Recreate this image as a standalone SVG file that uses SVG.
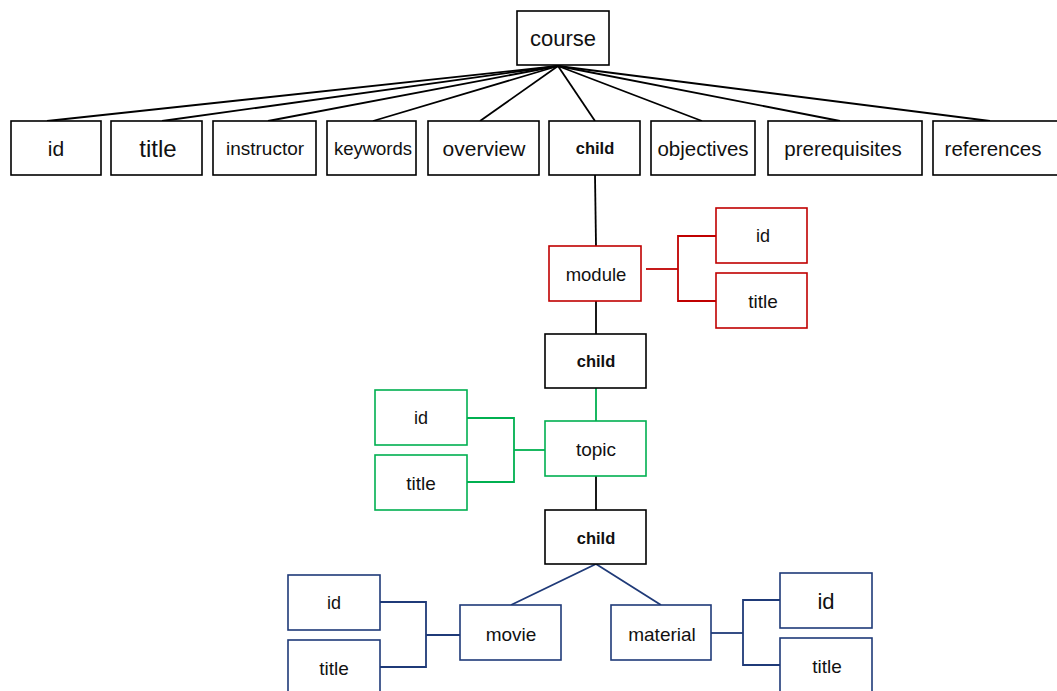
<svg xmlns="http://www.w3.org/2000/svg" width="1057" height="691" viewBox="0 0 1057 691">
<style>
rect{fill:#fff;stroke-width:1.6}
.k rect{stroke:#000}
.r rect{stroke:#C00000}
.g rect{stroke:#00B050}
.b rect{stroke:#1F3A78}
text{font-family:"Liberation Sans",Arial,sans-serif;fill:#111;text-anchor:middle;dominant-baseline:central}
.bold{font-weight:bold}
#connectors line,#connectors polyline{fill:none;stroke-width:1.8}
.lk{stroke:#000}.lr{stroke:#C00000}.lg{stroke:#00B050}.lb{stroke:#1F3A78}
</style>
<rect x="0" y="0" width="1057" height="691" style="fill:#fff;stroke:none"/>
<g id="connectors">
<g class="lk">
<line x1="558" y1="66" x2="47" y2="121"/>
<line x1="558" y1="66" x2="162" y2="121"/>
<line x1="558" y1="66" x2="268" y2="121"/>
<line x1="558" y1="66" x2="373" y2="121"/>
<line x1="558" y1="66" x2="480" y2="121"/>
<line x1="558" y1="66" x2="595" y2="121"/>
<line x1="558" y1="66" x2="702" y2="121"/>
<line x1="558" y1="66" x2="840" y2="121"/>
<line x1="558" y1="66" x2="990" y2="121"/>
<line x1="595" y1="175" x2="596" y2="246"/>
<line x1="596" y1="301" x2="596" y2="334"/>
<line x1="596" y1="476" x2="596" y2="510"/>
</g>
<g class="lr">
<line x1="646" y1="269" x2="678" y2="269"/>
<polyline points="716,236 678,236 678,301 716,301"/>
</g>
<g class="lg">
<line x1="596" y1="388" x2="596" y2="421"/>
<polyline points="467,418 514,418 514,482 467,482"/>
<line x1="514" y1="450" x2="545" y2="450"/>
</g>
<g class="lb">
<polyline points="511,605 596,564 661,605"/>
<polyline points="380,602 426,602 426,667 380,667"/>
<line x1="426" y1="635" x2="460" y2="635"/>
<line x1="711" y1="633" x2="743" y2="633"/>
<polyline points="780,600 743,600 743,665 780,665"/>
</g>
</g>
<g id="course" class="k"><rect x="517" y="11" width="92" height="54"/><text x="563" y="38" font-size="22">course</text></g>
<g id="course-id" class="k"><rect x="11" y="121" width="90" height="54"/><text x="56" y="148" font-size="21">id</text></g>
<g id="course-title" class="k"><rect x="111" y="121" width="91" height="54"/><text x="158" y="148" font-size="24">title</text></g>
<g id="instructor" class="k"><rect x="213" y="121" width="103" height="54"/><text x="265" y="148" font-size="19">instructor</text></g>
<g id="keywords" class="k"><rect x="327" y="121" width="89" height="54"/><text x="373" y="148" font-size="18.5">keywords</text></g>
<g id="overview" class="k"><rect x="428" y="121" width="111" height="54"/><text x="484" y="148" font-size="21">overview</text></g>
<g id="child1" class="k"><rect x="549" y="121" width="91" height="54"/><text x="595" y="148" font-size="16.5" class="bold">child</text></g>
<g id="objectives" class="k"><rect x="651" y="121" width="104" height="54"/><text x="703" y="148" font-size="20.5">objectives</text></g>
<g id="prerequisites" class="k"><rect x="768" y="121" width="154" height="54"/><text x="843" y="148" font-size="20.5">prerequisites</text></g>
<g id="references" class="k"><rect x="933" y="121" width="130" height="54"/><text x="993" y="148" font-size="20.5">references</text></g>
<g id="module" class="r"><rect x="549" y="246" width="92" height="55"/><text x="596" y="274" font-size="18.5">module</text></g>
<g id="module-id" class="r"><rect x="716" y="208" width="91" height="55"/><text x="763" y="236" font-size="18">id</text></g>
<g id="module-title" class="r"><rect x="716" y="273" width="91" height="55"/><text x="763" y="301" font-size="19">title</text></g>
<g id="child2" class="k"><rect x="545" y="334" width="101" height="54"/><text x="596" y="361" font-size="16.5" class="bold">child</text></g>
<g id="topic" class="g"><rect x="545" y="421" width="101" height="55"/><text x="596" y="449" font-size="19">topic</text></g>
<g id="topic-id" class="g"><rect x="375" y="390" width="92" height="55"/><text x="421" y="418" font-size="18">id</text></g>
<g id="topic-title" class="g"><rect x="375" y="455" width="92" height="55"/><text x="421" y="483" font-size="19">title</text></g>
<g id="child3" class="k"><rect x="545" y="510" width="101" height="54"/><text x="596" y="538" font-size="16.5" class="bold">child</text></g>
<g id="movie" class="b"><rect x="460" y="605" width="101" height="55"/><text x="511" y="634" font-size="19">movie</text></g>
<g id="movie-id" class="b"><rect x="288" y="575" width="92" height="55"/><text x="334" y="603" font-size="18">id</text></g>
<g id="movie-title" class="b"><rect x="288" y="640" width="92" height="60"/><text x="334" y="668" font-size="19">title</text></g>
<g id="material" class="b"><rect x="611" y="605" width="100" height="55"/><text x="662" y="634" font-size="19">material</text></g>
<g id="material-id" class="b"><rect x="780" y="573" width="92" height="55"/><text x="826" y="601" font-size="22">id</text></g>
<g id="material-title" class="b"><rect x="780" y="638" width="92" height="60"/><text x="827" y="666" font-size="19">title</text></g>
</svg>
